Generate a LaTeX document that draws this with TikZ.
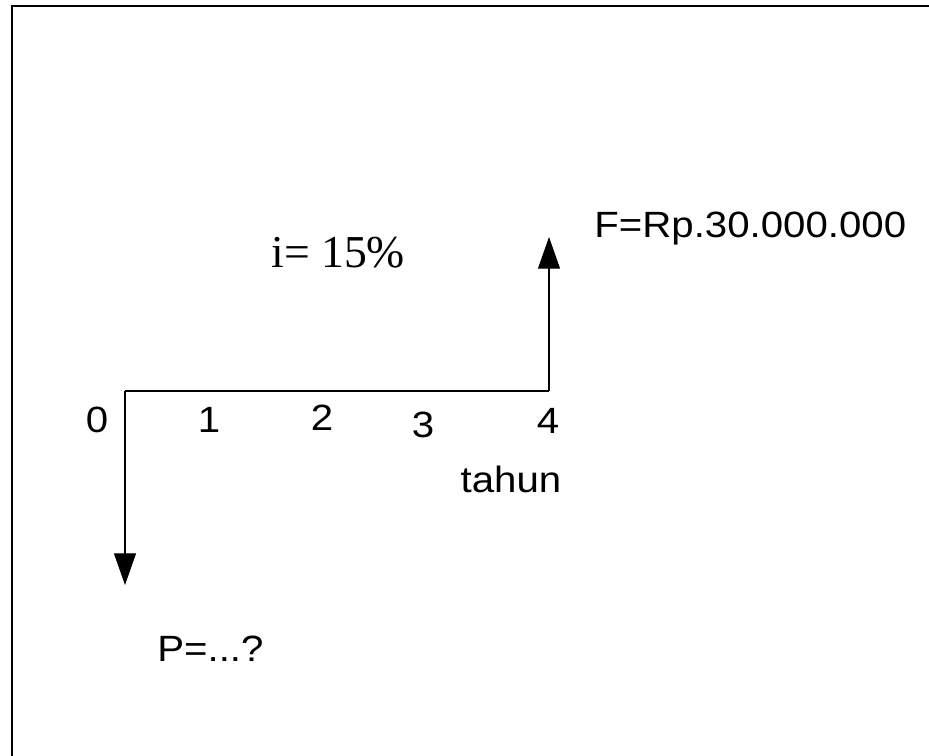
\documentclass[tikz,border=0pt]{standalone}
\usepackage{fontspec}
\setmainfont{Liberation Sans}[FakeStretch=1.1]
\newfontfamily\timesfont{Liberation Serif}
\usetikzlibrary{arrows.meta, positioning}

\begin{document}
\begin{tikzpicture}[
          x=0.02cm, y=-0.02cm,
          lbl/.style={inner sep=0pt, anchor=base, font=\fontsize{20.8}{25}\selectfont},
          txt/.style={inner sep=0pt, anchor=base west, font=\fontsize{20.8}{25}\selectfont},
          flow/.style={-{Triangle[length=18pt, width=12.5pt]}, line width=0.6pt},
          frame/.style={line width=1.1pt}
        ]
          \useasboundingbox (0,0) rectangle (929,755);
          % 枠
          \draw[frame] (12,760) -- (12,6) -- (935,6);

          % 時間軸の端点
          \coordinate (t0) at (125,391);
          \coordinate (t4) at (549,391);
          \coordinate (pend) at (125,585);
          \coordinate (fend) at (549,237);

          % 年のラベル
          \node[lbl] (y0) at (97,432) {0};
          \node[lbl] (y1) at (209,432) {1};
          \node[lbl] (y2) at (322,430) {2};
          \node[lbl] (y3) at (423,437) {3};
          \node[lbl] (y4) at (548,433) {4};
          \node[lbl] (unit) at (511,492) {tahun};

          % 金額と利率
          \node[txt] (fval) at (594,237) {F=Rp.30.000.000};
          \node[txt] (pval) at (157,661) {P=...?};
          \node[txt, font=\timesfont\fontsize{26}{31}\selectfont] (rate) at (271,267) {i= 15\%};

          % キャッシュフロー
          \draw[line width=0.6pt] (t0) -- (t4);
          \draw[flow] (t0) -- (pend);
          \draw[flow] (t4) -- (fend);
        \end{tikzpicture}
\end{document}
